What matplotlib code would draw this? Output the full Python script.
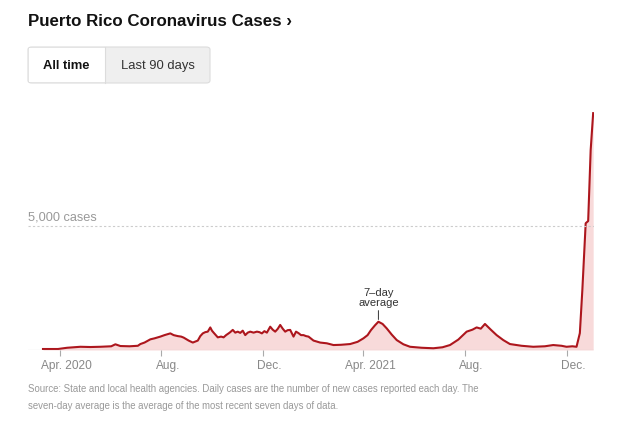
#!/usr/bin/env python3
import matplotlib
matplotlib.use("Agg")
import matplotlib.pyplot as plt
import matplotlib.transforms as mtransforms
from matplotlib.patches import FancyBboxPatch, Rectangle
import numpy as np
import pandas as pd

W, H = 628, 425

# 7-day average of new cases
dates = [
    "2020-03-12", "2020-03-30", "2020-04-10", "2020-04-26", "2020-05-08",
    "2020-05-20", "2020-06-02", "2020-06-07", "2020-06-13", "2020-06-24",
    "2020-07-04", "2020-07-07", "2020-07-12", "2020-07-19", "2020-07-24",
    "2020-07-31", "2020-08-05", "2020-08-12", "2020-08-16", "2020-08-21",
    "2020-08-25", "2020-08-28", "2020-09-03", "2020-09-08", "2020-09-11",
    "2020-09-14", "2020-09-17", "2020-09-20", "2020-09-23", "2020-09-26",
    "2020-09-29", "2020-10-01", "2020-10-03", "2020-10-08", "2020-10-12",
    "2020-10-15", "2020-10-18", "2020-10-21", "2020-10-23", "2020-10-26",
    "2020-10-29", "2020-11-01", "2020-11-04", "2020-11-07", "2020-11-10",
    "2020-11-13", "2020-11-16", "2020-11-20", "2020-11-24", "2020-11-27",
    "2020-11-30", "2020-12-03", "2020-12-06", "2020-12-10", "2020-12-13",
    "2020-12-16", "2020-12-19", "2020-12-22", "2020-12-25", "2020-12-28",
    "2020-12-31", "2021-01-03", "2021-01-07", "2021-01-10", "2021-01-13",
    "2021-01-16", "2021-01-19", "2021-01-22", "2021-01-25", "2021-01-31",
    "2021-02-08", "2021-02-16", "2021-02-24", "2021-03-05", "2021-03-16",
    "2021-03-25", "2021-04-01", "2021-04-06", "2021-04-10", "2021-04-15",
    "2021-04-19", "2021-04-24", "2021-04-29", "2021-05-05", "2021-05-11",
    "2021-05-19", "2021-05-27", "2021-06-10", "2021-06-24", "2021-07-05",
    "2021-07-14", "2021-07-24", "2021-08-03", "2021-08-10", "2021-08-15",
    "2021-08-20", "2021-08-25", "2021-09-01", "2021-09-08", "2021-09-16",
    "2021-09-24", "2021-10-08", "2021-10-22", "2021-11-05", "2021-11-15",
    "2021-11-25", "2021-12-01", "2021-12-08", "2021-12-13", "2021-12-17",
    "2021-12-20", "2021-12-23", "2021-12-24", "2021-12-27", "2021-12-30",
    "2022-01-02",
]
cases = [
    40, 40, 90, 130, 120,
    130, 150, 230, 160, 150,
    170, 240, 300, 430, 470,
    540, 600, 670, 600, 560,
    540, 500, 380, 300, 340,
    380, 560, 670, 720, 740,
    910, 780, 700, 510, 540,
    510, 600, 670, 720, 810,
    700, 740, 690, 780, 600,
    700, 740, 700, 740, 720,
    670, 760, 700, 940, 820,
    740, 850, 1010, 860, 740,
    800, 810, 540, 740, 680,
    600, 600, 560, 540, 380,
    300, 270, 200, 210, 240,
    330, 470, 600, 800, 1000,
    1140, 1050, 870, 620, 400,
    230, 130, 90, 70, 110,
    200, 420, 740, 820, 910,
    860, 1050, 820, 600, 400,
    240, 170, 130, 150, 200,
    170, 130, 150, 130, 680,
    2420, 4430, 5110, 5200, 8060,
    9550,
]

tick_dates = ["2020-04-01", "2020-08-01", "2020-12-01",
              "2021-04-01", "2021-08-01", "2021-12-01"]
tick_labels = ["Apr. 2020", "Aug.", "Dec.", "Apr. 2021", "Aug.", "Dec."]

plt.rcParams["font.family"] = ["Liberation Sans", "DejaVu Sans"]

x = pd.to_datetime(dates)
y = np.array(cases)

fig = plt.figure(figsize=(W / 100, H / 100), dpi=100)


def fx(px):
    return px / W


def fy(py):
    return 1 - py / H


# title and toggle buttons
fig.text(fx(28), fy(21), "Puerto Rico Coronavirus Cases ›", fontsize=12.2,
         fontweight="bold", color="#121212", va="center")

box = FancyBboxPatch((fx(28), fy(83)), fx(182), 36 / H,
                     boxstyle="round,pad=0,rounding_size=0.006",
                     transform=fig.transFigure, facecolor="#efefef",
                     edgecolor="#dcdcdc", linewidth=0.8)
fig.patches.append(box)
fig.patches.append(Rectangle((fx(28.6), fy(82.4)), fx(76.4), 34.8 / H,
                             transform=fig.transFigure, facecolor="white",
                             edgecolor="none"))
fig.add_artist(plt.Line2D([fx(105), fx(105)], [fy(83), fy(47)],
                          transform=fig.transFigure, color="#dcdcdc", lw=0.8))
fig.text(fx(66.5), fy(66), "All time", fontsize=9.4, fontweight="bold",
         color="#121212", ha="center", va="center")
fig.text(fx(157.5), fy(66), "Last 90 days", fontsize=9.4, color="#333333",
         ha="center", va="center")

# chart
ax = fig.add_axes([fx(28), fy(350), fx(594 - 28), 250 / H])
ax.fill_between(x, 0, y, color="#f8dada", lw=0)
ax.plot(x, y, color="#ad161d", lw=1.5, solid_joinstyle="round")

ax.set_xlim(pd.Timestamp("2020-02-23"), pd.Timestamp("2022-01-03"))
ax.set_ylim(0, 10080)

ax.axhline(5000, color="#cccccc", lw=0.8, ls=(0, (2, 2)))
ax.axhline(0, color="#bbbbbb", lw=0.8)
ax.text(0, 5000 + 90, "5,000 cases", transform=ax.get_yaxis_transform(),
        fontsize=9.2, color="#999999", va="bottom", ha="left")

for s in ax.spines.values():
    s.set_visible(False)
ax.set_yticks([])
ax.set_xticks(pd.to_datetime(tick_dates))
ax.set_xticklabels(tick_labels)
ax.tick_params(axis="x", length=4, width=0.8, color="#aaaaaa",
               labelsize=8.6, labelcolor="#888888", pad=3.5)
shift = mtransforms.ScaledTranslation(0.065, 0, fig.dpi_scale_trans)
for t in ax.get_xticklabels():
    t.set_transform(t.get_transform() + shift)

# annotation
ann_x = pd.Timestamp("2021-04-19")
ax.annotate("7–day\naverage", xy=(ann_x, 1230), xytext=(ann_x, 1700),
            ha="center", va="bottom", fontsize=8, color="#333333",
            linespacing=0.95,
            arrowprops=dict(arrowstyle="-", color="#333333", lw=0.7,
                            shrinkA=0, shrinkB=0))

# footnote
fig.text(fx(28), fy(389), "Source: State and local health agencies. Daily "
         "cases are the number of new cases reported each day. The",
         fontsize=6.9, color="#999999", va="center")
fig.text(fx(28), fy(406), "seven-day average is the average of the most "
         "recent seven days of data.", fontsize=6.9, color="#999999",
         va="center")

fig.savefig("out.png", dpi=100)
